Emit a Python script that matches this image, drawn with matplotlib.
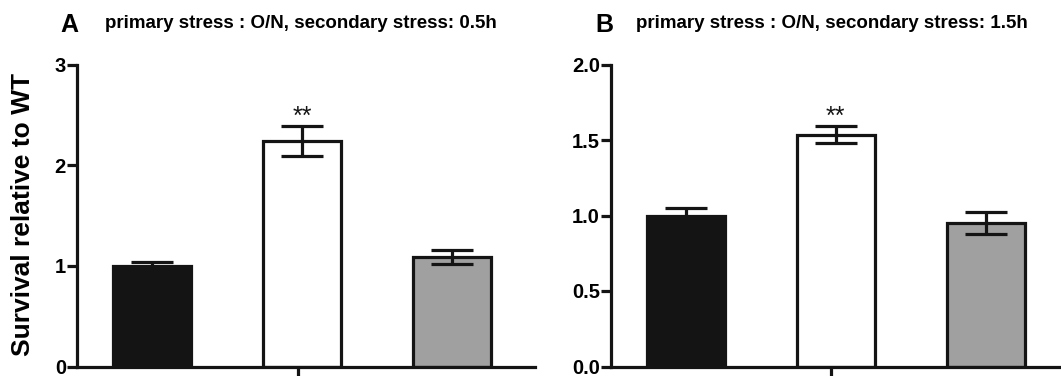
import matplotlib
matplotlib.use("Agg")
import matplotlib.pyplot as plt

plt.rcParams['font.family'] = ['Liberation Sans', 'DejaVu Sans']

groups = ["WT", "mutant 1", "mutant 2"]
colors = ["#141414", "#ffffff", "#a0a0a0"]

a_values = [1.00, 2.24, 1.09]
a_errors = [0.04, 0.145, 0.07]
a_yticks = [0, 1, 2, 3]
a_yticklabels = ["0", "1", "2", "3"]
a_title = "primary stress : O/N, secondary stress: 0.5h"

b_values = [1.00, 1.535, 0.95]
b_errors = [0.05, 0.055, 0.07]
b_yticks = [0.0, 0.5, 1.0, 1.5, 2.0]
b_yticklabels = ["0.0", "0.5", "1.0", "1.5", "2.0"]
b_title = "primary stress : O/N, secondary stress: 1.5h"

W, H = 1061, 376
fig = plt.figure(figsize=(W / 100, H / 100), dpi=100)

def px_axes(left, right, bottom_px, top_px):
    return fig.add_axes([left / W, (H - bottom_px) / H, (right - left) / W, (bottom_px - top_px) / H])

axA = px_axes(77, 535, 366.5, 64.5)
axB = px_axes(611, 1068, 366.5, 64.5)

lw = 2.3
ink = "#141414"

def draw(ax, values, errors, yticks, yticklabels, ymax, letter, title, letter_x, title_x, ylabel=None):
    x = list(range(len(values)))
    ax.bar(x, values, width=0.52, color=colors, edgecolor=ink, linewidth=lw, zorder=2)
    ax.errorbar(x, values, yerr=errors, fmt="none", ecolor=ink, elinewidth=lw,
                capsize=15, capthick=lw, zorder=3)
    ax.set_xlim(-0.5, 2.55)
    ax.set_ylim(0, ymax)
    for s in ["top", "right"]:
        ax.spines[s].set_visible(False)
    for s in ["left", "bottom"]:
        ax.spines[s].set_linewidth(lw)
        ax.spines[s].set_color(ink)
    ax.set_yticks(yticks)
    ax.set_yticklabels(yticklabels, fontsize=14.5, fontweight="bold")
    ax.set_xticks([0.97])
    ax.set_xticklabels([""])
    ax.tick_params(axis="both", direction="out", length=7, width=lw, color=ink, pad=1)
    ax.tick_params(axis="x", length=12)
    ax.annotate("**", xy=(1, values[1] + errors[1]), xytext=(0, -2), textcoords="offset points",
                ha="center", va="bottom", fontsize=18, color=ink)
    fig.text(letter_x / W, 1 - 32 / H, letter, fontsize=18, fontweight="bold", ha="left", va="baseline")
    fig.text(title_x / W, 1 - 28 / H, title, fontsize=13.5, fontweight="bold", ha="left", va="baseline")
    if ylabel:
        fig.text(23 / W, 1 - 215 / H, ylabel, rotation=90, fontsize=19, fontweight="bold",
                 ha="center", va="center")

draw(axA, a_values, a_errors, a_yticks, a_yticklabels, 3, "A", a_title, 60, 105,
     ylabel="Survival relative to WT")
draw(axB, b_values, b_errors, b_yticks, b_yticklabels, 2.0, "B", b_title, 595, 636)

fig.savefig("out.png", dpi=100)
